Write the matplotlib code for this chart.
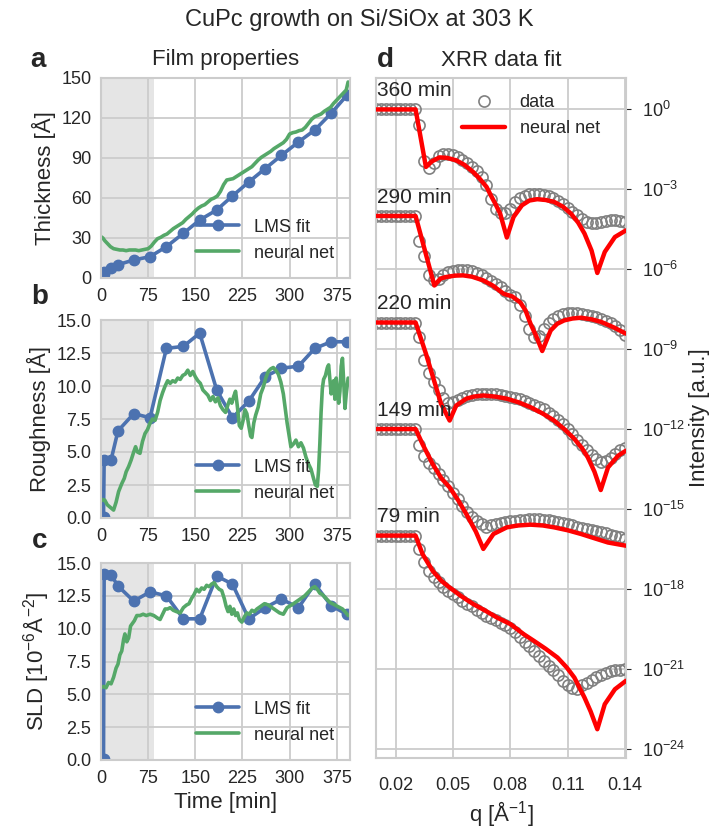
import numpy as np
import matplotlib
matplotlib.use("Agg")
import matplotlib.pyplot as plt
import seaborn as sns

sns.set_style("whitegrid")
plt.rcParams['font.family'] = ['Liberation Sans', 'DejaVu Sans']
plt.rcParams['mathtext.fontset'] = 'custom'
plt.rcParams['mathtext.rm'] = 'Liberation Sans'
plt.rcParams['mathtext.it'] = 'Liberation Sans:italic'
plt.rcParams['mathtext.bf'] = 'Liberation Sans:bold'

BLUE = '#4C72B0'
GREEN = '#55A868'

# LMS fit (Film properties)
lms_time = [4, 5, 16, 27, 52, 78, 104, 131, 157, 184, 209, 235, 261, 287, 314, 340, 366, 391]
lms_thickness = [3.0, 4.5, 7.5, 10.0, 13.5, 16.0, 23.5, 33.5, 43.5, 51.0, 61.5, 72.0, 82.0, 92.0, 102.0, 111.0, 123.5, 137.0]
lms_roughness = [0.1, 4.4, 4.4, 6.6, 7.9, 7.6, 12.85, 13.0, 14.0, 9.7, 7.6, 8.85, 10.7, 11.35, 11.5, 12.85, 13.35, 13.35]
lms_sld = [0.1, 14.2, 14.1, 13.25, 12.1, 12.8, 12.5, 10.75, 10.75, 14.0, 13.4, 10.75, 11.6, 12.25, 11.6, 13.4, 11.75, 11.1]

# neural net predictions
nn_time_a = [0, 3, 6, 10, 15, 20, 25, 30, 35, 40, 45, 50, 55, 60, 65, 70, 75, 80, 85, 90,
             95, 100, 105, 110, 115, 120, 125, 130, 135, 140, 145, 150, 155, 160, 165, 170, 175, 180, 185, 190,
             195, 200, 205, 210, 215, 220, 225, 230, 235, 240, 245, 250, 255, 260, 265, 270, 275, 280, 285, 290,
             295, 300, 305, 310, 315, 320, 325, 330, 335, 340, 345, 350, 355, 360, 365, 370, 375, 380, 385, 390, 393]
nn_thickness = [31, 30, 28, 26, 23.5, 22, 21.5, 21, 21, 20.5, 21, 21, 21, 20.5, 21, 21.5, 22, 24, 27, 29.5,
                30.5, 32, 33, 35, 37, 38.5, 40, 41.5, 44, 46, 48, 50.5, 52.5, 54, 55, 57, 59, 60, 61.5, 65,
                70, 73.5, 74, 74.5, 76, 77.5, 79, 80.5, 82, 83.5, 86, 88.5, 90.5, 92, 93.5, 95, 97, 98.5, 100, 101.5,
                104, 108, 109, 109.5, 110.5, 111, 113, 116, 119, 121, 122, 123, 125, 126.5, 128, 131, 133.5, 136, 138.5, 141, 147]

nn_time_b = [0, 3, 6, 10, 15, 20, 24, 28, 33, 37, 40, 44, 48, 52, 55, 58, 62, 66, 70, 74,
             78, 82, 86, 90, 94, 98, 102, 106, 110, 114, 118, 122, 126, 130, 134, 138, 142, 146, 150, 154,
             158, 162, 166, 170, 174, 178, 182, 186, 190, 194, 198, 202, 205, 208, 211, 214, 217, 220, 223, 226,
             229, 232, 235, 238, 240, 243, 246, 250, 254, 258, 262, 266, 270, 274, 278, 282, 286, 290, 293, 296,
             299, 302, 306, 310, 314, 318, 322, 326, 330, 334, 338, 341, 344, 346, 348, 350, 352, 354, 357, 360,
             362, 364, 366, 368, 370, 372, 374, 376, 378, 380, 382, 384, 386, 388, 390, 393]
nn_roughness = [1.3, 1.4, 1.35, 1.0, 0.8, 0.6, 1.2, 2.0, 2.6, 3.0, 3.5, 3.9, 4.4, 5.0, 5.4, 5.0, 4.9, 5.8, 6.4, 6.7,
                7.2, 7.5, 7.4, 8.0, 8.9, 9.5, 10.0, 10.4, 10.2, 10.4, 10.3, 10.6, 10.5, 10.8, 10.9, 11.2, 10.8, 11.1, 10.7, 10.4,
                10.2, 9.7, 9.5, 9.3, 8.9, 9.2, 8.8, 9.1, 8.5, 8.2, 8.0, 8.6, 9.0, 8.7, 9.2, 9.6, 8.4, 7.0, 6.8, 7.4,
                8.2, 7.9, 7.0, 6.2, 6.1, 7.2, 7.8, 8.4, 9.4, 9.9, 10.6, 11.1, 11.3, 11.4, 11.2, 10.9, 10.3, 9.4, 8.3, 7.2,
                6.3, 5.4, 5.6, 5.9, 5.4, 5.7, 5.3, 4.6, 4.1, 3.7, 3.0, 2.5, 2.4, 3.6, 5.6, 8.0, 9.8, 10.5, 10.8, 11.4,
                11.6, 10.5, 9.4, 9.8, 10.4, 9.0, 10.6, 9.5, 8.7, 9.6, 11.5, 12.1, 10.3, 8.3, 9.4, 10.6]

nn_time_c = [0, 4, 8, 12, 16, 20, 24, 27, 30, 33, 36, 38, 41, 44, 47, 50, 53, 57, 62, 67,
             72, 78, 84, 90, 94, 98, 102, 106, 110, 115, 120, 126, 131, 136, 140, 144, 148, 152, 156, 160,
             164, 168, 172, 176, 180, 184, 188, 192, 196, 199, 202, 205, 208, 211, 214, 217, 220, 224, 228, 232,
             236, 240, 244, 248, 254, 260, 266, 272, 278, 284, 290, 296, 301, 306, 312, 318, 324, 330, 336, 340,
             344, 348, 352, 356, 360, 364, 368, 372, 376, 380, 384, 388, 393]
nn_sld = [5.5, 5.6, 5.5, 5.9, 5.8, 6.3, 7.0, 7.3, 8.0, 8.3, 9.2, 9.6, 9.0, 9.3, 10.2, 10.4, 10.6, 11.0, 11.0, 11.1,
          11.0, 11.1, 11.0, 10.8, 10.7, 11.1, 11.5, 11.5, 11.6, 11.4, 11.3, 11.2, 11.6, 11.8, 11.9, 12.3, 12.6, 13.0, 12.8, 13.1,
          13.0, 13.3, 13.2, 13.4, 13.5, 13.2, 13.0, 12.9, 12.3, 11.7, 11.3, 11.7, 11.1, 11.5, 11.0, 11.2, 10.7, 10.5, 10.9, 11.2,
          11.1, 11.4, 11.3, 11.5, 11.7, 11.9, 11.8, 11.6, 11.4, 11.2, 11.1, 11.6, 11.75, 11.9, 12.1, 12.3, 12.5, 12.8, 13.1, 13.2,
          13.0, 12.7, 12.6, 12.4, 12.2, 12.0, 11.9, 11.8, 11.7, 11.6, 11.5, 11.3, 11.0]

# XRR curves (log10 intensity relative to plateau)
curve_labels = ['360 min', '290 min', '220 min', '149 min', '79 min']
curve_offsets = [0, -4, -8, -12, -16]

q_data = [0.0100, 0.0125, 0.0150, 0.0175, 0.0200, 0.0225, 0.0250, 0.0275, 0.0300, 0.0325,
          0.0350, 0.0375, 0.0400, 0.0425, 0.0450, 0.0475, 0.0500, 0.0525, 0.0550, 0.0575,
          0.0600, 0.0625, 0.0650, 0.0675, 0.0700, 0.0725, 0.0750, 0.0775, 0.0800, 0.0825,
          0.0850, 0.0875, 0.0900, 0.0925, 0.0950, 0.0975, 0.1000, 0.1025, 0.1050, 0.1075,
          0.1100, 0.1125, 0.1150, 0.1175, 0.1200, 0.1225, 0.1250, 0.1275, 0.1300, 0.1325,
          0.1350, 0.1375, 0.1400]

data_360 = [0, 0, 0, 0, 0, 0, 0, 0, 0, -0.6,
            -1.95, -2.2, -2.0, -1.75, -1.68, -1.68, -1.72, -1.80, -1.90, -2.03,
            -2.15, -2.30, -2.55, -2.85, -3.35, -3.75, -3.90, -3.90, -3.72, -3.48,
            -3.33, -3.24, -3.19, -3.17, -3.17, -3.20, -3.26, -3.33, -3.42, -3.55,
            -3.70, -3.85, -3.98, -4.12, -4.22, -4.28, -4.27, -4.23, -4.20, -4.17,
            -4.16, -4.18, -4.22]
data_290 = [0, 0, 0, 0, 0, 0, 0, 0, 0, -0.95,
            -1.5, -2.2, -2.42, -2.38, -2.2, -2.1, -2.05, -2.02, -2.02, -2.04,
            -2.08, -2.14, -2.22, -2.32, -2.44, -2.56, -2.68, -2.82, -2.95, -3.05,
            -3.35, -3.75, -4.25, -4.55, -4.50, -4.25, -4.02, -3.85, -3.74, -3.68,
            -3.65, -3.64, -3.65, -3.67, -3.70, -3.75, -3.80, -3.86, -3.94, -4.03,
            -4.13, -4.28, -4.46]
data_220 = [0, 0, 0, 0, 0, 0, 0, 0, 0, -0.55,
            -1.42, -1.9, -2.25, -2.55, -2.85, -3.02, -2.98, -2.9, -2.83, -2.77,
            -2.73, -2.70, -2.68, -2.67, -2.68, -2.70, -2.72, -2.75, -2.78, -2.82,
            -2.88, -2.95, -3.02, -3.09, -3.16, -3.26, -3.38, -3.50, -3.65, -3.82,
            -4.00, -4.20, -4.40, -4.60, -4.80, -4.97, -5.12, -5.22, -5.20, -5.08,
            -4.93, -4.80, -4.70]
data_149 = [0, 0, 0, 0, 0, 0, 0, 0, 0, -0.6,
            -1.0, -1.27, -1.48, -1.68, -1.9, -2.15, -2.4, -2.64, -2.88, -3.10,
            -3.3, -3.45, -3.58, -3.66, -3.62, -3.57, -3.53, -3.50, -3.47, -3.44,
            -3.42, -3.40, -3.39, -3.38, -3.39, -3.40, -3.42, -3.44, -3.48, -3.52,
            -3.57, -3.62, -3.67, -3.71, -3.75, -3.79, -3.83, -3.87, -3.92, -3.97,
            -4.02, -4.07, -4.12]
data_79 = [0, 0, 0, 0, 0, 0, 0, 0, 0, -0.5,
           -1.0, -1.33, -1.56, -1.74, -1.92, -2.07, -2.2, -2.32, -2.44, -2.55,
           -2.66, -2.78, -2.9, -3.0, -3.1, -3.18, -3.27, -3.37, -3.48, -3.62,
           -3.8, -3.98, -4.16, -4.34, -4.52, -4.70, -4.88, -5.05, -5.25, -5.45,
           -5.6, -5.73, -5.75, -5.62, -5.52, -5.42, -5.32, -5.22, -5.14, -5.09,
           -5.06, -5.04, -5.02]

q_fit_360 = [0.0098, 0.0305, 0.0359, 0.0390, 0.0430, 0.0470, 0.0517, 0.0560, 0.0606, 0.0640,
             0.0676, 0.0700, 0.0721, 0.0747, 0.0782, 0.0817, 0.0861, 0.0900, 0.0941, 0.0985,
             0.1029, 0.1075, 0.1117, 0.1155, 0.1188, 0.1225, 0.1255, 0.1294, 0.1347, 0.1405]
fit_360 = [0, 0, -2.16, -1.95, -1.80, -1.82, -1.91, -2.08, -2.35, -2.60,
           -2.91, -3.25, -3.53, -3.91, -4.81, -4.04, -3.60, -3.42, -3.37, -3.40,
           -3.47, -3.65, -3.91, -4.25, -4.66, -5.3, -6.14, -5.35, -4.79, -4.54]
q_fit_290 = [0.0098, 0.0305, 0.0403, 0.0435, 0.0465, 0.0510, 0.0553, 0.0600, 0.0659, 0.0710,
             0.0765, 0.0810, 0.0853, 0.0880, 0.0906, 0.0935, 0.0967, 0.1011, 0.1045, 0.1082,
             0.1125, 0.1170, 0.1225, 0.1276, 0.1340, 0.1405]
fit_290 = [0, 0, -2.61, -2.35, -2.29, -2.24, -2.23, -2.28, -2.42, -2.62,
           -2.92, -3.02, -3.25, -3.55, -4.05, -4.5, -5.07, -4.30, -4.05, -3.92,
           -3.85, -3.82, -3.88, -3.98, -4.18, -4.42]
q_fit_220 = [0.0098, 0.0305, 0.0359, 0.0412, 0.0438, 0.0483, 0.0517, 0.0570, 0.0610, 0.0659,
             0.0720, 0.0782, 0.0845, 0.0906, 0.0970, 0.1029, 0.1085, 0.1135, 0.1175, 0.1205,
             0.1240, 0.1273, 0.1311, 0.1364, 0.1405]
fit_220 = [0, 0, -1.17, -2.43, -3.05, -3.68, -3.12, -2.86, -2.78, -2.74,
           -2.78, -2.86, -3.0, -3.18, -3.42, -3.68, -4.02, -4.37, -4.72, -5.06,
           -5.6, -6.29, -5.44, -5.0, -4.81]
q_fit_149 = [0.0098, 0.0305, 0.0341, 0.0394, 0.0440, 0.0483, 0.0530, 0.0570, 0.0620, 0.0659,
             0.0712, 0.0782, 0.0840, 0.0906, 0.0970, 0.1029, 0.1100, 0.1170, 0.1240, 0.1311, 0.1405]
fit_149 = [0, 0, -0.56, -1.31, -1.85, -2.19, -2.7, -3.19, -3.85, -4.5,
           -3.94, -3.69, -3.62, -3.59, -3.62, -3.69, -3.8, -3.94, -4.1, -4.26, -4.38]
q_fit_79 = [0.0098, 0.0305, 0.0341, 0.0394, 0.0440, 0.0483, 0.0545, 0.0606, 0.0670, 0.0729,
            0.0800, 0.0870, 0.0923, 0.0985, 0.1047, 0.1095, 0.1135, 0.1188, 0.1220, 0.1255,
            0.1294, 0.1347, 0.1405]
fit_79 = [0, 0, -0.69, -1.32, -1.7, -1.95, -2.28, -2.57, -2.82, -3.07,
          -3.32, -3.7, -3.95, -4.25, -4.58, -4.95, -5.33, -6.08, -6.6, -7.27,
          -6.33, -5.77, -5.45]

data_curves = [data_360, data_290, data_220, data_149, data_79]
fit_q = [q_fit_360, q_fit_290, q_fit_220, q_fit_149, q_fit_79]
fit_curves = [fit_360, fit_290, fit_220, fit_149, fit_79]

W, H = 719, 831
fig = plt.figure(figsize=(W / 100, H / 100), dpi=100)


def rect(x0, y0, x1, y1):
    return [x0 / W, 1 - y1 / H, (x1 - x0) / W, (y1 - y0) / H]


ax_a = fig.add_axes(rect(101, 78, 350, 278))
ax_b = fig.add_axes(rect(101, 320, 350, 518))
ax_c = fig.add_axes(rect(101, 563, 350, 760))
ax_d = fig.add_axes(rect(376, 78, 626, 758))

left_panels = [
    (ax_a, lms_thickness, nn_time_a, nn_thickness, 'Thickness [Å]', 150, [0, 30, 60, 90, 120, 150]),
    (ax_b, lms_roughness, nn_time_b, nn_roughness, 'Roughness [Å]', 15, [0, 2.5, 5, 7.5, 10, 12.5, 15]),
    (ax_c, lms_sld, nn_time_c, nn_sld, 'SLD [10$^{-6}$Å$^{-2}$]', 15, [0, 2.5, 5, 7.5, 10, 12.5, 15]),
]
for ax, lms_vals, nn_t, nn_vals, ylab, ymax, yticks in left_panels:
    ax.axvspan(0, 84, color='gray', alpha=0.2, lw=0, zorder=0.5)
    ax.plot(lms_time, lms_vals, 'o-', color=BLUE, lw=2.6, ms=7.5, label='LMS fit')
    ax.plot(nn_t, nn_vals, '-', color=GREEN, lw=2.6, label='neural net')
    ax.set_xlim(0, 396)
    ax.set_ylim(0, ymax)
    ax.set_xticks([0, 75, 150, 225, 300, 375])
    ax.set_yticks(yticks)
    ax.set_ylabel(ylab, fontsize=16)
    ax.tick_params(labelsize=13)
    ax.legend(loc='lower right', fontsize=13, handlelength=2.4, frameon=False)
ax_b.yaxis.set_major_formatter(matplotlib.ticker.FormatStrFormatter('%.1f'))
ax_c.yaxis.set_major_formatter(matplotlib.ticker.FormatStrFormatter('%.1f'))
ax_c.set_xlabel('Time [min]', fontsize=16)
ax_a.set_title('Film properties', fontsize=16, pad=9)

# XRR panel
for i in range(len(curve_labels)):
    off = curve_offsets[i]
    ax_d.plot(q_data, 10 ** (np.array(data_curves[i]) + off), 'o', mfc='none', mec='#808080',
              mew=1.2, ms=8, label='data' if i == 0 else None, zorder=2)
    ax_d.plot(fit_q[i], 10 ** (np.array(fit_curves[i]) + off), '-', color='red', lw=3.2,
              label='neural net' if i == 0 else None, zorder=3)
    ax_d.text(0.0103, 10 ** (off + 0.71), curve_labels[i], fontsize=15, va='center', ha='left',
              color='#262626', zorder=4)
ax_d.set_yscale('log')
ax_d.set_xlim(0.0098, 0.1405)
ax_d.set_ylim(10 ** -24.35, 10 ** 1.18)
ax_d.set_xticks([0.02, 0.05, 0.08, 0.11, 0.14])
ax_d.set_yticks([10.0 ** k for k in range(0, -25, -3)])
ax_d.yaxis.set_minor_locator(matplotlib.ticker.NullLocator())
ax_d.yaxis.tick_right()
ax_d.yaxis.set_label_position('right')
ax_d.tick_params(axis='x', labelsize=13, pad=10)
ax_d.tick_params(axis='y', labelsize=13, pad=8)
ax_d.set_xlabel('q [Å$^{-1}$]', fontsize=16)
ax_d.set_ylabel('Intensity [a.u.]', fontsize=16, labelpad=3)
ax_d.set_title('XRR data fit', fontsize=16, pad=9)
ax_d.legend(loc='upper right', fontsize=13, handlelength=2.4, frameon=False,
            bbox_to_anchor=(0.96, 1.0))

for ax in [ax_a, ax_b, ax_c, ax_d]:
    for s in ax.spines.values():
        s.set_linewidth(1.5)
    ax.grid(lw=1.3)

fig.suptitle('CuPc growth on Si/SiOx at 303 K', fontsize=17, y=1 - 20 / H, va='center')
for letter, x, y in [('a', 38, 60), ('b', 40, 297), ('c', 40, 541), ('d', 385, 60)]:
    fig.text(x / W, 1 - y / H, letter, fontsize=20, fontweight='bold', ha='center', va='center')

fig.savefig('out.png', dpi=100)
